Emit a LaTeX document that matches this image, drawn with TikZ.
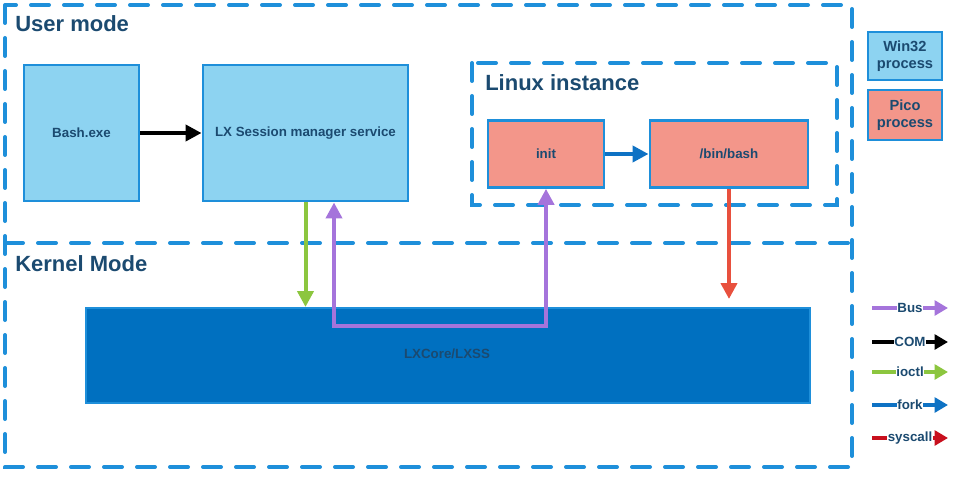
\documentclass[tikz,border=0pt]{standalone}
\usepackage{fontspec}
\setmainfont{Liberation Sans}
\usetikzlibrary{positioning,arrows.meta}
\definecolor{zoneblue}{HTML}{1E8FDA}
\definecolor{boxfill}{HTML}{8DD3F1}
\definecolor{picofill}{HTML}{F3968A}
\definecolor{coreblue}{HTML}{0070C0}
\definecolor{inktext}{HTML}{1B4A70}
\definecolor{buspurple}{HTML}{A574DB}
\definecolor{ioctlgreen}{HTML}{8CC63F}
\definecolor{forkblue}{HTML}{0E72C4}
\definecolor{callred}{HTML}{E8503E}
\definecolor{legred}{HTML}{C8101E}
\tikzset{
  zone/.style={draw=zoneblue, line width=3pt, dash pattern=on 13.5pt off 11.25pt, line cap=round},
  zonetitle/.style={anchor=west, text=inktext, inner sep=0pt,
    font=\fontsize{16.5}{19}\selectfont\bfseries},
  winbox/.style={draw=zoneblue, line width=2.2pt, fill=boxfill, text=inktext,
    font=\fontsize{10}{12}\selectfont\bfseries, align=center, inner sep=2pt},
  picobox/.style={winbox, fill=picofill},
  legbox/.style={font=\fontsize{11}{12.5}\selectfont\bfseries},
  flowtip/.style={-{Triangle[length=12pt,width=12pt]}},
  bus/.style={draw=buspurple, line width=3pt},
  com/.style={draw=black, line width=3pt},
  ioctl/.style={draw=ioctlgreen, line width=3pt},
  fork/.style={draw=forkblue, line width=3pt},
  syscall/.style={draw=callred, line width=3pt},
  legsyscall/.style={draw=legred, line width=3pt},
  legtext/.style={fill=white, inner sep=0.4pt, text=inktext,
    font=\fontsize{10}{11}\selectfont\bfseries},
}
\begin{document}
\begin{tikzpicture}[x=0.75pt, y=-0.75pt]
\useasboundingbox (0,0) rectangle (976,485);
% user and kernel zones
\draw[zone] (5,5) rectangle (852,467);
\draw[zone] (5,243) -- (852,243);
\node[zonetitle] (usertitle) at (15,24) {User mode};
\node[zonetitle] (kerneltitle) at (15,264) {Kernel Mode};
% linux instance
\draw[zone] (472,63) rectangle (837,205);
\node[zonetitle] (linuxtitle) at (485,83) {Linux instance};
% processes
\node[winbox, minimum width=86.25pt, minimum height=102pt] (bashexe) at (81.5,133) {Bash.exe};
\node[winbox, minimum width=153.75pt, minimum height=102pt] (lxss) at (305.5,133) {LX Session manager service};
\node[picobox, minimum width=87pt, minimum height=50pt] (init) at (546,154) {init};
\node[picobox, minimum width=118.5pt, minimum height=50pt] (binbash) at (729,154) {/bin/bash};
% kernel driver
\node[draw=zoneblue, line width=1.5pt, fill=coreblue,
  minimum width=543pt, minimum height=71.25pt] (core) at (448,355.5) {};
\node[text=inktext, font=\fontsize{10}{12}\selectfont\bfseries] (corelabel) at (447,354) {LXCore/LXSS};
% connectors
\draw[com, flowtip] (bashexe) -- (lxss);
\draw[fork, flowtip] (init) -- (binbash);
\draw[ioctl, flowtip] (lxss.south) -- (lxss.south |- core.north);
\coordinate (busturn) at (334,326);
\draw[bus, {Triangle[length=12pt,width=12pt]}-{Triangle[length=12pt,width=12pt]}]
  (busturn |- lxss.south) -- (busturn) -| (init.south);
\draw[syscall, flowtip] (binbash.south) -- ([yshift=6pt]binbash.south |- core.north);
% legend
\node[winbox, legbox, minimum width=55.5pt, minimum height=36pt] (legwin) at (905,56) {Win32\\process};
\node[picobox, legbox, minimum width=55.5pt, minimum height=37.5pt] (legpico) at (905,115) {Pico\\process};
\foreach \ly/\lsty/\ltxt [count=\i] in {308/bus/Bus, 342/com/COM, 372/ioctl/ioctl, 405/fork/fork, 438/legsyscall/syscall}{
  \coordinate (leg\i a) at (872,\ly);
  \coordinate (leg\i b) at (948,\ly);
  \draw[\lsty, -{Triangle[length=10pt,width=11pt]}] (leg\i a) -- node[legtext] {\ltxt} (leg\i b);
}
\end{tikzpicture}
\end{document}
